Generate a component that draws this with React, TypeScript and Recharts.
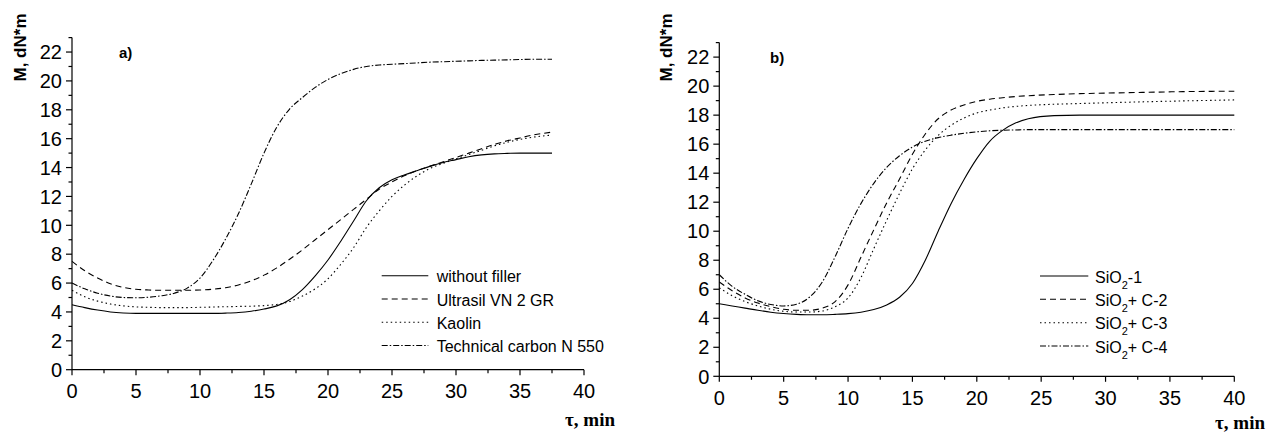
import React from "react";
import { LineChart, Line, XAxis, YAxis } from "recharts";

// ---------- Chart a) ----------
const timesA = [0, 1, 2, 3, 4, 5, 6, 7, 8, 9, 10, 11, 12, 13, 14, 15, 16, 17, 18, 19, 20, 21, 22, 23, 24, 25, 26, 27, 28, 29, 30, 31, 32, 33, 34, 35, 36, 37.5];
const withoutFiller = [4.5, 4.3, 4.13, 4.0, 3.93, 3.9, 3.9, 3.9, 3.9, 3.9, 3.9, 3.9, 3.92, 3.96, 4.05, 4.2, 4.42, 4.85, 5.55, 6.5, 7.6, 8.9, 10.3, 11.7, 12.6, 13.15, 13.5, 13.8, 14.1, 14.35, 14.55, 14.75, 14.88, 14.95, 14.98, 15.0, 15.0, 15.0];
const ultrasil = [7.5, 6.85, 6.35, 5.95, 5.7, 5.57, 5.52, 5.5, 5.5, 5.5, 5.52, 5.57, 5.68, 5.87, 6.15, 6.55, 7.05, 7.65, 8.3, 9.0, 9.7, 10.4, 11.1, 11.8, 12.5, 13.0, 13.45, 13.8, 14.1, 14.4, 14.7, 15.0, 15.3, 15.6, 15.85, 16.05, 16.25, 16.45];
const kaolin = [5.5, 5.05, 4.75, 4.55, 4.42, 4.35, 4.32, 4.3, 4.3, 4.3, 4.32, 4.34, 4.36, 4.38, 4.4, 4.44, 4.52, 4.72, 5.1, 5.6, 6.3, 7.3, 8.45, 9.85, 11.0, 12.0, 12.8, 13.45, 13.95, 14.3, 14.6, 14.9, 15.2, 15.5, 15.75, 15.95, 16.1, 16.25];
const techCarbon = [6.0, 5.6, 5.3, 5.1, 5.0, 4.98, 5.02, 5.12, 5.3, 5.65, 6.35, 7.55, 9.05, 10.8, 12.85, 15.0, 16.8, 18.05, 18.85, 19.55, 20.1, 20.5, 20.8, 21.0, 21.1, 21.15, 21.2, 21.25, 21.3, 21.33, 21.36, 21.39, 21.42, 21.44, 21.46, 21.48, 21.5, 21.5];
const namesA = ["without filler", "Ultrasil VN 2 GR", "Kaolin", "Technical carbon N 550"];

// ---------- Chart b) ----------
const timesB = [0, 1, 2, 3, 4, 5, 6, 7, 8, 9, 10, 11, 12, 13, 14, 15, 16, 17, 18, 19, 20, 21, 22, 23, 24, 26, 28, 30, 33, 36, 40];
const sio2_1 = [5.0, 4.85, 4.7, 4.55, 4.42, 4.33, 4.27, 4.24, 4.24, 4.27, 4.32, 4.42, 4.6, 4.92, 5.45, 6.4, 8.0, 10.0, 11.9, 13.55, 15.0, 16.2, 16.95, 17.45, 17.75, 17.97, 18.0, 18.0, 18.0, 18.0, 18.0];
const sio2c_2 = [6.5, 5.9, 5.4, 5.05, 4.8, 4.62, 4.55, 4.55, 4.7, 5.15, 6.3, 8.2, 10.1, 11.95, 13.6, 15.3, 16.7, 17.75, 18.35, 18.7, 18.95, 19.1, 19.2, 19.28, 19.34, 19.42, 19.48, 19.52, 19.57, 19.62, 19.65];
const sio2c_3 = [6.1, 5.55, 5.15, 4.85, 4.62, 4.48, 4.43, 4.43, 4.5, 4.8, 5.4, 6.8, 8.8, 10.75, 12.6, 14.3, 15.6, 16.6, 17.3, 17.8, 18.15, 18.35, 18.5, 18.6, 18.67, 18.75, 18.8, 18.85, 18.92, 18.98, 19.05];
const sio2c_4 = [7.0, 6.2, 5.65, 5.2, 4.95, 4.85, 4.97, 5.45, 6.5, 8.25, 10.2, 11.9, 13.3, 14.4, 15.2, 15.8, 16.2, 16.45, 16.62, 16.75, 16.85, 16.92, 16.96, 16.98, 17.0, 17.0, 17.0, 17.0, 17.0, 17.0, 17.0];
const suffixesB = ["-1", "+ C-2", "+ C-3", "+ C-4"];

// ---------- Axes ----------
const xTicks = [0, 2.5, 5, 7.5, 10, 12.5, 15, 17.5, 20, 22.5, 25, 27.5, 30, 32.5, 35, 37.5, 40];
const yTicks = [0, 1, 2, 3, 4, 5, 6, 7, 8, 9, 10, 11, 12, 13, 14, 15, 16, 17, 18, 19, 20, 21, 22, 23];

const dashes = ["0", "6 4", "1.5 3", "6 2 1.5 2"];
const keys = ["s1", "s2", "s3", "s4"];

const dataA = timesA.map((t, i) => ({ t, s1: withoutFiller[i], s2: ultrasil[i], s3: kaolin[i], s4: techCarbon[i] }));
const dataB = timesB.map((t, i) => ({ t, s1: sio2_1[i], s2: sio2c_2[i], s3: sio2c_3[i], s4: sio2c_4[i] }));

const FONT = "'Liberation Sans', Arial, sans-serif";

const YTick = (props: any) => {
  const { x, y, payload } = props;
  const v = payload.value;
  const major = v % 2 === 0;
  return (
    <g>
      <line x1={x - (major ? 6 : 3.5)} x2={x} y1={y} y2={y} stroke="#000" strokeWidth={1.2} />
      {major && (
        <text x={x - 10} y={y} dy="0.36em" textAnchor="end" fontSize={20} fontFamily={FONT} fill="#000">
          {v}
        </text>
      )}
    </g>
  );
};

const XTick = (props: any) => {
  const { x, y, payload } = props;
  const v = payload.value;
  const major = v % 5 === 0;
  return (
    <g>
      <line x1={x} x2={x} y1={y} y2={y + (major ? 5.5 : 3.5)} stroke="#000" strokeWidth={1.2} />
      {major && (
        <text x={x} y={y + 21} dy="0.36em" textAnchor="middle" fontSize={20} fontFamily={FONT} fill="#000">
          {v}
        </text>
      )}
    </g>
  );
};

const Chart = ({ data, width, margin }: any) => (
  <LineChart width={width} height={432} data={data} margin={margin}>
    <XAxis
      dataKey="t"
      type="number"
      domain={[0, 40]}
      ticks={xTicks}
      interval={0}
      tickSize={0}
      tickMargin={0}
      height={2}
      tick={<XTick />}
      axisLine={{ stroke: "#000", strokeWidth: 1.2 }}
      tickLine={false}
    />
    <YAxis
      type="number"
      domain={[0, 23]}
      ticks={yTicks}
      interval={0}
      tickSize={0}
      tickMargin={0}
      width={2}
      tick={<YTick />}
      axisLine={{ stroke: "#000", strokeWidth: 1.2 }}
      tickLine={false}
    />
    {keys.map((k, i) => (
      <Line
        key={k}
        dataKey={k}
        type="monotone"
        stroke="#000"
        strokeWidth={1.1}
        strokeDasharray={dashes[i]}
        dot={false}
        activeDot={false}
        isAnimationActive={false}
      />
    ))}
  </LineChart>
);

const legendRowsA = [275.7, 299, 322.3, 345.5];
const legendRowsB = [276, 299.3, 322.7, 346];

export default function App() {
  return (
    <div style={{ position: "absolute", left: 0, top: 0, width: 1268, height: 432, background: "#fff" }}>
      <div style={{ position: "absolute", left: 0, top: 0 }}>
        <Chart data={dataA} width={640} margin={{ top: 37.6, right: 56, bottom: 60.3, left: 70 }} />
      </div>
      <div style={{ position: "absolute", left: 640, top: 0 }}>
        <Chart data={dataB} width={628} margin={{ top: 42.6, right: 33.7, bottom: 53.7, left: 77.3 }} />
      </div>
      <svg
        width={1268}
        height={432}
        style={{ position: "absolute", left: 0, top: 0, pointerEvents: "none" }}
      >
        {/* Y titles */}
        <text
          transform="translate(20,47.5) rotate(-90)"
          textAnchor="middle"
          dy="0.36em"
          fontSize={17}
          fontWeight="bold"
          fontFamily={FONT}
        >
          M, dN*m
        </text>
        <text
          transform="translate(666,47.5) rotate(-90)"
          textAnchor="middle"
          dy="0.36em"
          fontSize={17}
          fontWeight="bold"
          fontFamily={FONT}
        >
          M, dN*m
        </text>
        {/* panel labels */}
        <text x={119} y={58} fontSize={15} fontWeight="bold" fontFamily={FONT}>a)</text>
        <text x={770} y={63} fontSize={15} fontWeight="bold" fontFamily={FONT}>b)</text>
        {/* X titles */}
        <text x={615} y={426} textAnchor="end" fontSize={19} fontWeight="bold" fontFamily="'Liberation Serif', 'Times New Roman', serif">
          τ, min
        </text>
        <text x={1265} y={429} textAnchor="end" fontSize={19} fontWeight="bold" fontFamily="'Liberation Serif', 'Times New Roman', serif">
          τ, min
        </text>
        {/* Legend a */}
        {namesA.map((n, i) => (
          <g key={n}>
            <line x1={381.7} x2={428.3} y1={legendRowsA[i]} y2={legendRowsA[i]} stroke="#000" strokeWidth={1.1} strokeDasharray={dashes[i]} />
            <text x={436.7} y={legendRowsA[i] + 6.5} fontSize={16} fontFamily={FONT}>{n}</text>
          </g>
        ))}
        {/* Legend b */}
        {suffixesB.map((s, i) => (
          <g key={s}>
            <line x1={1040} x2={1088.3} y1={legendRowsB[i]} y2={legendRowsB[i]} stroke="#000" strokeWidth={1.1} strokeDasharray={dashes[i]} />
            <text x={1095} y={legendRowsB[i] + 6.5} fontSize={16} fontFamily={FONT}>
              SiO
              <tspan fontSize={11} dy={6}>2</tspan>
              <tspan dy={-6}>{s}</tspan>
            </text>
          </g>
        ))}
      </svg>
    </div>
  );
}
